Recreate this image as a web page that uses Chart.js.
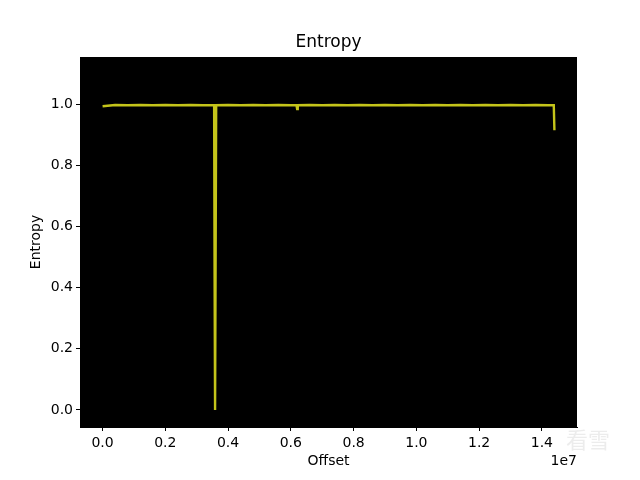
<!DOCTYPE html>
<html>
<head>
<meta charset="utf-8">
<script src="https://cdn.jsdelivr.net/npm/chart.js@4"></script>
<style>
  html, body { margin: 0; padding: 0; background: #fff; }
  #wrap { width: 640px; height: 480px; }
</style>
</head>
<body>
<div id="wrap"><canvas id="entropyChart" width="640" height="480"></canvas></div>
<script>
// offsets (bytes) and entropy
const offsets = [
  0, 400000, 800000, 1200000, 1600000, 2000000, 2400000, 2800000, 3200000,
  3555000, 3570000, 3585000, 3605000, 3620000,
  4000000, 4400000, 4800000, 5200000, 5600000, 6000000, 6180000, 6200000, 6220000,
  6600000, 7000000, 7400000, 7800000, 8200000, 8600000, 9000000, 9400000,
  9800000, 10200000, 10600000, 11000000, 11400000, 11800000, 12200000,
  12600000, 13000000, 13400000, 13800000, 14200000, 14380000, 14400000
];
const entropy = [
  0.994, 0.998, 0.997, 0.998, 0.997, 0.998, 0.997, 0.998, 0.997,
  0.997, 0.44, 0.0, 0.0, 0.997,
  0.998, 0.997, 0.998, 0.997, 0.998, 0.997, 0.997, 0.985, 0.997,
  0.998, 0.997, 0.998, 0.997, 0.998, 0.997, 0.998, 0.997,
  0.998, 0.997, 0.998, 0.997, 0.998, 0.997, 0.998,
  0.997, 0.998, 0.997, 0.998, 0.997, 0.997, 0.915
];
const xTicks = [0, 2000000, 4000000, 6000000, 8000000, 10000000, 12000000, 14000000];
const yTicks = [0, 0.2, 0.4, 0.6, 0.8, 1.0];

const points = offsets.map((o, i) => ({ x: o, y: entropy[i] }));

const blackArea = {
  id: "blackArea",
  beforeDraw(chart) {
    const { ctx, chartArea } = chart;
    ctx.save();
    ctx.fillStyle = "#000";
    ctx.fillRect(chartArea.left, chartArea.top, chartArea.right - chartArea.left, chartArea.bottom - chartArea.top);
    ctx.restore();
  },
  afterDraw(chart) {
    const { ctx, chartArea } = chart;
    ctx.save();
    ctx.fillStyle = "#000";
    ctx.textBaseline = "middle";
    // title centred over the plot area like matplotlib does
    ctx.font = "17px 'DejaVu Sans'";
    ctx.textAlign = "center";
    ctx.fillText("Entropy", (chartArea.left + chartArea.right) / 2, 43);
    ctx.font = "14px 'DejaVu Sans'";
    ctx.textAlign = "right";
    ctx.fillText("1e7", chartArea.right, 461);
    // faint site watermark
    ctx.fillStyle = "rgba(200,200,200,0.35)";
    ctx.font = "22px 'Noto Sans CJK SC'";
    ctx.textAlign = "left";
    ctx.fillText("看雪", 566, 440);
    ctx.restore();
  }
};

const tickFont = { family: "DejaVu Sans", size: 14 };

new Chart(document.getElementById("entropyChart"), {
  type: "line",
  data: {
    datasets: [
      {
        data: points,
        borderColor: "#c4c41a",
        borderWidth: 2.4,
        pointRadius: 0,
        tension: 0,
        fill: false,
      },
    ],
  },
  options: {
    responsive: false,
    animation: false,
    layout: { padding: { top: 57, right: 63, bottom: 0, left: 0 } },
    plugins: {
      legend: { display: false },
      tooltip: { enabled: false },
      title: { display: false },
    },
    scales: {
      x: {
        type: "linear",
        min: -720000,
        max: 15120000,
        afterBuildTicks: (axis) => { axis.ticks = xTicks.map((v) => ({ value: v })); },
        afterFit: (scale) => { scale.height = 53; },
        ticks: {
          color: "#000",
          font: tickFont,
          padding: 4,
          maxRotation: 0,
          callback: (v) => (v / 1e7).toFixed(1),
        },
        grid: { drawOnChartArea: false, drawTicks: true, tickLength: 4, color: "#000" },
        border: { display: true, color: "#000" },
        title: {
          display: true,
          text: "Offset",
          color: "#000",
          font: tickFont,
          padding: { top: 0, bottom: 10 },
        },
      },
      y: {
        min: -0.056,
        max: 1.155,
        afterBuildTicks: (axis) => { axis.ticks = yTicks.map((v) => ({ value: v })); },
        afterFit: (scale) => { scale.width = 80; },
        ticks: {
          color: "#000",
          font: tickFont,
          padding: 3,
          callback: (v) => v.toFixed(1),
        },
        grid: { drawOnChartArea: false, drawTicks: true, tickLength: 4, color: "#000" },
        border: { display: true, color: "#000" },
        title: {
          display: true,
          text: "Entropy",
          color: "#000",
          font: tickFont,
          padding: { top: 28, bottom: 0 },
        },
      },
    },
  },
  plugins: [blackArea],
});
</script>
</body>
</html>
